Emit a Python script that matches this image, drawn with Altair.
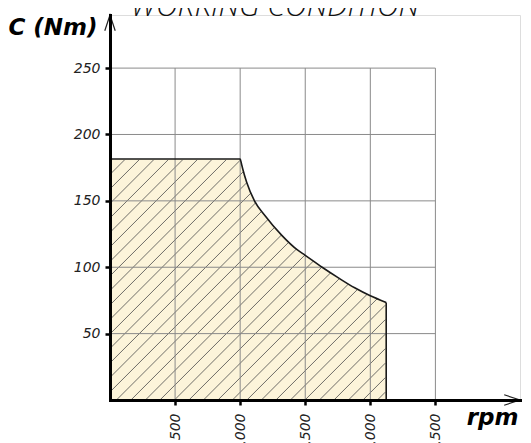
import altair as alt
import pandas as pd
import numpy as np

# ---- data ----
RPM = [0, 1000, 1010, 1020, 1050, 1110, 1190, 1320, 1440, 1500, 1630, 1755, 1880, 2000, 2122]
TORQUE = [181.5, 181.5, 178, 174, 164, 150, 139, 124, 113, 109, 100, 92, 84.5, 78.5, 73.5]
X_TICKS = [500, 1000, 1500, 2000, 2500]
Y_TICKS = [50, 100, 150, 200, 250]
TITLE = "WORKING CONDITION"
X_TITLE = "rpm"
Y_TITLE = "C (Nm)"

# ---- layout ----
W, H = 410, 385
XMAX, YMAX = 3150, 290
FILL = "#fcf4da"

curve = pd.DataFrame({"rpm": RPM, "torque": TORQUE, "top": [TORQUE[0] + 1.5] * len(RPM)})

# hatch segments (45 deg in screen space) clipped just inside the bounding rectangle of the region
px_x = W / XMAX
px_y = H / YMAX
s = px_x / px_y  # Nm per rpm for a 45-degree line
step = 14.5 / px_x  # horizontal spacing in px
xr = RPM[-1] - 0.9 / px_x
yt = TORQUE[0] - 0.9 / px_y
rows = []
for x0 in np.arange(-yt / s, xr, step):
    xs = max(0.0, x0)
    ys = s * (xs - x0)
    xe = min(x0 + yt / s, xr)
    ye = s * (xe - x0)
    if xe > xs:
        rows.append({"x": xs, "y": ys, "x2": xe, "y2": ye})
hatch = pd.DataFrame(rows)

xs_ = alt.Scale(domain=[0, XMAX], nice=False, zero=False)
ys_ = alt.Scale(domain=[0, YMAX], nice=False, zero=False)

FONT = "DejaVu Sans"
X_AXIS = alt.Axis(values=X_TICKS, title=X_TITLE, grid=False, domainColor="black", domainWidth=3,
                  domainCap="square", tickSize=5, tickWidth=2.5, tickColor="black",
                  labelAngle=270, labelAlign="right", labelBaseline="middle", labelPadding=8,
                  labelFont=FONT, labelFontStyle="italic", labelFontSize=14, labelColor="#222",
                  labelFlush=False, labelOverlap=False,
                  titleFont=FONT, titleFontStyle="italic", titleFontWeight="bold", titleFontSize=23,
                  titleColor="black", titleAngle=0, titleX=408, titleY=24, titleAlign="right",
                  titleBaseline="alphabetic", zindex=1)
Y_AXIS = alt.Axis(values=Y_TICKS, title=Y_TITLE, grid=False, domainColor="black", domainWidth=3,
                  domainCap="square", tickSize=5, tickWidth=2.5, tickColor="black",
                  labelPadding=5, labelFont=FONT, labelFontStyle="italic", labelFontSize=14,
                  labelColor="#222", labelFlush=False, labelOverlap=False,
                  titleFont=FONT, titleFontStyle="italic", titleFontWeight="bold", titleFontSize=23,
                  titleColor="black", titleAngle=0, titleX=-13, titleY=19, titleAlign="right",
                  titleBaseline="alphabetic", zindex=1)


def X(f):
    return alt.X(f, type="quantitative", scale=xs_, axis=X_AXIS)


def Y(f):
    return alt.Y(f, type="quantitative", scale=ys_, axis=Y_AXIS)


area = alt.Chart(curve).mark_area(color=FILL, interpolate="monotone").encode(
    x=X("rpm"), y=Y("torque"))

hatch_l = alt.Chart(hatch).mark_rule(color="#4a4a4a", strokeWidth=0.8).encode(
    x=X("x"), y=Y("y"), x2="x2", y2="y2")

mask = alt.Chart(curve).mark_area(color="white", interpolate="monotone").encode(
    x=X("rpm"), y=Y("torque"), y2="top")

vgrid = alt.Chart(pd.DataFrame({"x": X_TICKS, "y0": 0, "y1": Y_TICKS[-1]})).mark_rule(
    color="#8a8a8a", strokeWidth=1).encode(x=X("x"), y=Y("y0"), y2="y1")
hgrid = alt.Chart(pd.DataFrame({"y": Y_TICKS, "x0": 0, "x1": X_TICKS[-1]})).mark_rule(
    color="#8a8a8a", strokeWidth=1).encode(y=Y("y"), x=X("x0"), x2="x1")

outline = alt.Chart(curve).mark_line(color="#1a1a1a", strokeWidth=1.6, interpolate="monotone").encode(
    x=X("rpm"), y=Y("torque"))
edge = alt.Chart(pd.DataFrame({"x": [RPM[-1]], "y0": [0], "y1": [TORQUE[-1]]})).mark_rule(
    color="#1a1a1a", strokeWidth=1.6).encode(x=X("x"), y=Y("y0"), y2="y1")

arrow_y = alt.Chart(pd.DataFrame({"x": [0], "y": [YMAX]})).mark_point(
    shape="M-0.33,1L0,0L0.33,1", size=1000, filled=False, color="#222", strokeWidth=1.2, opacity=1
).encode(x=X("x"), y=Y("y"))
arrow_x = alt.Chart(pd.DataFrame({"x": [XMAX], "y": [0]})).mark_point(
    shape="M-1,-0.33L0,0L-1,0.33", size=1000, filled=False, color="#222", strokeWidth=1.2, opacity=1
).encode(x=X("x"), y=Y("y"))

# chart title, cut by the top edge as in the reference
title = alt.Chart(pd.DataFrame({"t": [TITLE]})).mark_text(
    font="Open Sans", fontStyle="italic", fontWeight=300, fontSize=30, color="#111",
    align="center", baseline="alphabetic"
).encode(text="t:N", x=alt.value(165), y=alt.value(1))

chart = alt.layer(area, hatch_l, mask, vgrid, hgrid, outline, edge, arrow_y, arrow_x, title).properties(
    width=W, height=H,
    autosize=alt.AutoSizeParams(type="none"),
    padding={"left": 102, "top": 7, "right": 3, "bottom": 43},
).configure_view(stroke=None).configure(background="white")

chart.save("out.html", embed_options={"renderer": "svg", "actions": False})
